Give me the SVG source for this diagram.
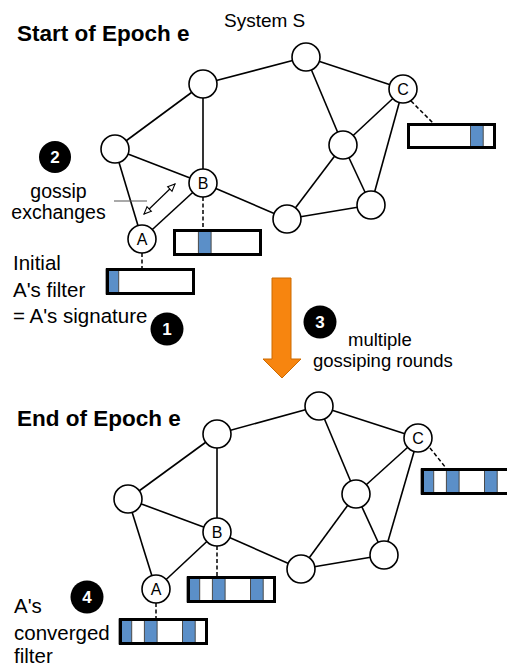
<svg xmlns="http://www.w3.org/2000/svg" width="507" height="668" viewBox="0 0 507 668">
  <style>
    .edge { stroke: #000; stroke-width: 1.6; fill: none; }
    .node { fill: #fff; stroke: #000; stroke-width: 1.6; }
    .nlabel { font-family: "Liberation Sans", Arial, sans-serif; font-size: 16px; text-anchor: middle; fill: #000; }
    .tether { stroke: #000; stroke-width: 1.5; stroke-dasharray: 4 2.5; fill: none; }
    .cellbg { fill: #fff; }
    .bit { fill: #5b8fc8; stroke: #4a4a4a; stroke-width: 1; }
    .frame { fill: none; stroke: #000; stroke-width: 3; }
    .title { font-family: "Liberation Sans", Arial, sans-serif; font-size: 22.5px; font-weight: bold; fill: #000; }
    .note { font-family: "Liberation Sans", Arial, sans-serif; font-size: 20.5px; fill: #000; }
    .note2 { font-family: "Liberation Sans", Arial, sans-serif; font-size: 18.5px; fill: #000; }
    .sans { font-family: "Liberation Sans", Arial, sans-serif; font-size: 19.5px; fill: #000; }
    .badge { fill: #000; }
    .badgenum { font-family: "Liberation Sans", Arial, sans-serif; font-size: 17px; font-weight: bold; fill: #fff; text-anchor: middle; }
  </style>
  <defs>
    <marker id="openhead" viewBox="0 0 10 10" refX="9" refY="5" markerWidth="9" markerHeight="9" markerUnits="userSpaceOnUse" orient="auto-start-reverse">
      <path d="M1,1.5 L9,5 L1,8.5 Z" fill="#fff" stroke="#000" stroke-width="1.2"/>
    </marker>
  </defs>

  <!-- headings -->
  <text class="title" x="17" y="41">Start of Epoch e</text>
  <text class="sans" x="224" y="27" style="font-size:19px">System S</text>
  <text class="title" x="17" y="426">End of Epoch e</text>

  <!-- ===== start-of-epoch network ===== -->
  <g id="top-connectors">
    <line class="edge" x1="203" y1="84" x2="306" y2="57"/>
    <line class="edge" x1="203" y1="84" x2="115" y2="149"/>
    <line class="edge" x1="203" y1="84" x2="203" y2="183"/>
    <line class="edge" x1="306" y1="57" x2="403" y2="89"/>
    <line class="edge" x1="306" y1="57" x2="343" y2="145"/>
    <line class="edge" x1="403" y1="89" x2="343" y2="145"/>
    <line class="edge" x1="403" y1="89" x2="371" y2="205"/>
    <line class="edge" x1="343" y1="145" x2="287" y2="219"/>
    <line class="edge" x1="343" y1="145" x2="371" y2="205"/>
    <line class="edge" x1="287" y1="219" x2="371" y2="205"/>
    <line class="edge" x1="203" y1="183" x2="287" y2="219"/>
    <line class="edge" x1="115" y1="149" x2="203" y2="183"/>
    <line class="edge" x1="115" y1="149" x2="142" y2="239"/>
    <line class="edge" x1="142" y1="239" x2="203" y2="183"/>
    <!-- filter tethers -->
    <line class="tether" x1="203" y1="197" x2="203" y2="229"/>
    <line class="tether" x1="142" y1="253" x2="142" y2="268"/>
    <line class="tether" x1="411" y1="101" x2="433" y2="123"/>
    <!-- gossip exchange arrow -->
    <line x1="144" y1="214" x2="175" y2="184" stroke="#000" stroke-width="1.2" marker-start="url(#openhead)" marker-end="url(#openhead)"/>
    <line x1="114" y1="201" x2="147" y2="201" stroke="#555" stroke-width="1.2"/>
  </g>

  <g id="t-n1"><circle class="node" cx="203" cy="84" r="14"/></g>
  <g id="t-n2"><circle class="node" cx="306" cy="57" r="14"/></g>
  <g id="t-c"><circle class="node" cx="403" cy="89" r="14"/><text class="nlabel" x="403" y="95">C</text></g>
  <g id="t-n4"><circle class="node" cx="343" cy="145" r="14"/></g>
  <g id="t-n5"><circle class="node" cx="371" cy="205" r="14"/></g>
  <g id="t-n6"><circle class="node" cx="287" cy="219" r="14"/></g>
  <g id="t-n7"><circle class="node" cx="115" cy="149" r="14"/></g>
  <g id="t-b"><circle class="node" cx="203" cy="183" r="14"/><text class="nlabel" x="203" y="189">B</text></g>
  <g id="t-a"><circle class="node" cx="142" cy="239" r="14"/><text class="nlabel" x="142" y="245">A</text></g>

  <!-- start-of-epoch filters: 7 cells of 12.7px each -->
  <g id="t-filter-b">
    <rect class="cellbg" x="173" y="229" width="89" height="27"/>
    <rect class="bit" x="198.4" y="230" width="12.7" height="25"/>
    <rect class="frame" x="174.5" y="230.5" width="86" height="24"/>
  </g>
  <g id="t-filter-a">
    <rect class="cellbg" x="106" y="268" width="89" height="27"/>
    <rect class="bit" x="106" y="269" width="12.7" height="25"/>
    <rect class="frame" x="107.5" y="269.5" width="86" height="24"/>
  </g>
  <g id="t-filter-c">
    <rect class="cellbg" x="407" y="123" width="89" height="26"/>
    <rect class="bit" x="470.5" y="124" width="12.7" height="24"/>
    <rect class="frame" x="408.5" y="124.5" width="86" height="23"/>
  </g>

  <!-- annotations -->
  <g id="step2">
    <circle class="badge" cx="55" cy="157" r="16"/>
    <text class="badgenum" x="55" y="163">2</text>
    <text class="sans" x="58.5" y="198" text-anchor="middle">gossip</text>
    <text class="sans" x="58.5" y="219" text-anchor="middle">exchanges</text>
  </g>
  <g id="step1">
    <text class="note" x="13" y="270">Initial</text>
    <text class="note" x="13" y="297">A's filter</text>
    <text class="note" x="13" y="323">= A's signature</text>
    <circle class="badge" cx="167" cy="329" r="16.5"/>
    <text class="badgenum" x="167" y="335">1</text>
  </g>
  <g id="step3">
    <polygon points="272,278 291,278 291,359 301,359 282,378 263,359 272,359" fill="#f7850f" stroke="#cc6a00" stroke-width="1"/>
    <circle class="badge" cx="320" cy="322" r="16.5"/>
    <text class="badgenum" x="320" y="328">3</text>
    <text class="note2" x="348" y="346">multiple</text>
    <text class="note2" x="313" y="367">gossiping rounds</text>
  </g>

  <!-- ===== end-of-epoch network ===== -->
  <g id="bottom-connectors">
    <line class="edge" x1="217" y1="434" x2="319" y2="406"/>
    <line class="edge" x1="217" y1="434" x2="128" y2="499"/>
    <line class="edge" x1="217" y1="434" x2="217" y2="532"/>
    <line class="edge" x1="319" y1="406" x2="418" y2="438"/>
    <line class="edge" x1="319" y1="406" x2="356" y2="494"/>
    <line class="edge" x1="418" y1="438" x2="356" y2="494"/>
    <line class="edge" x1="418" y1="438" x2="384" y2="555"/>
    <line class="edge" x1="356" y1="494" x2="301" y2="569"/>
    <line class="edge" x1="356" y1="494" x2="384" y2="555"/>
    <line class="edge" x1="301" y1="569" x2="384" y2="555"/>
    <line class="edge" x1="217" y1="532" x2="301" y2="569"/>
    <line class="edge" x1="128" y1="499" x2="217" y2="532"/>
    <line class="edge" x1="128" y1="499" x2="156" y2="589"/>
    <line class="edge" x1="156" y1="589" x2="217" y2="532"/>
    <!-- filter tethers -->
    <line class="tether" x1="217" y1="546" x2="217" y2="576"/>
    <line class="tether" x1="156" y1="603" x2="156" y2="618"/>
    <line class="tether" x1="430" y1="448" x2="446" y2="468"/>
  </g>

  <g id="b-n1"><circle class="node" cx="217" cy="434" r="14"/></g>
  <g id="b-n2"><circle class="node" cx="319" cy="406" r="14"/></g>
  <g id="b-c"><circle class="node" cx="418" cy="438" r="14"/><text class="nlabel" x="418" y="444">C</text></g>
  <g id="b-n4"><circle class="node" cx="356" cy="494" r="14"/></g>
  <g id="b-n5"><circle class="node" cx="384" cy="555" r="14"/></g>
  <g id="b-n6"><circle class="node" cx="301" cy="569" r="14"/></g>
  <g id="b-n7"><circle class="node" cx="128" cy="499" r="14"/></g>
  <g id="b-b"><circle class="node" cx="217" cy="532" r="14"/><text class="nlabel" x="217" y="538">B</text></g>
  <g id="b-a"><circle class="node" cx="156" cy="589" r="14"/><text class="nlabel" x="156" y="595">A</text></g>

  <!-- converged filters: bits 0, 2 and 5 set -->
  <g id="b-filter-b">
    <rect class="cellbg" x="187" y="576" width="89" height="27"/>
    <rect class="bit" x="187" y="577" width="12.7" height="25"/>
    <rect class="bit" x="212.4" y="577" width="12.7" height="25"/>
    <rect class="bit" x="250.5" y="577" width="12.7" height="25"/>
    <rect class="frame" x="188.5" y="577.5" width="86" height="24"/>
  </g>
  <g id="b-filter-a">
    <rect class="cellbg" x="119" y="618" width="89" height="27"/>
    <rect class="bit" x="119" y="619" width="12.7" height="25"/>
    <rect class="bit" x="144.4" y="619" width="12.7" height="25"/>
    <rect class="bit" x="182.5" y="619" width="12.7" height="25"/>
    <rect class="frame" x="120.5" y="619.5" width="86" height="24"/>
  </g>
  <g id="b-filter-c">
    <rect class="cellbg" x="421" y="468" width="89" height="27"/>
    <rect class="bit" x="421" y="469" width="12.7" height="25"/>
    <rect class="bit" x="446.4" y="469" width="12.7" height="25"/>
    <rect class="bit" x="484.5" y="469" width="12.7" height="25"/>
    <rect class="frame" x="422.5" y="469.5" width="86" height="24"/>
  </g>

  <g id="step4">
    <circle class="badge" cx="87" cy="597" r="16.5"/>
    <text class="badgenum" x="87" y="603">4</text>
    <text class="note" x="14" y="613">A's</text>
    <text class="note" x="14" y="640">converged</text>
    <text class="note" x="14" y="663">filter</text>
  </g>
</svg>
